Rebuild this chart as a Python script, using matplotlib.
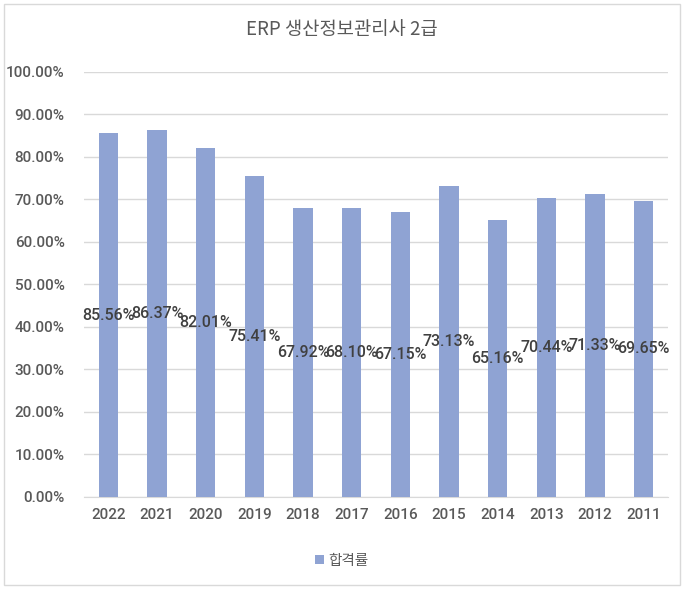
import numpy as np
import matplotlib.pyplot as plt
from matplotlib.patches import Rectangle

plt.rcParams['font.family'] = ['Roboto', 'Noto Sans CJK KR', 'DejaVu Sans']

# Data
years = ['2022', '2021', '2020', '2019', '2018', '2017', '2016', '2015', '2014', '2013', '2012', '2011']
pass_rate = [85.56, 86.37, 82.01, 75.41, 67.92, 68.10, 67.15, 73.13, 65.16, 70.44, 71.33, 69.65]
title = 'ERP 생산정보관리사 2급'
series_name = '합격률'

bar_color = '#8FA3D3'
text_color = '#595959'

fig = plt.figure(figsize=(6.84, 5.89), dpi=100)
ax = fig.add_axes([0.1228, 0.1562, 0.8538, 0.7216])

x = np.arange(len(years))
bars = ax.bar(x, pass_rate, width=0.4, color=bar_color, zorder=3, label=series_name)

# labels at bar center
for xi, v in zip(x, pass_rate):
    ax.text(xi, v / 2, f'{v:.2f}%', ha='center', va='center', fontsize=11.5,
            color='#404040', fontweight='medium', zorder=4)

ax.set_xlim(-0.5, len(years) - 0.5)
ax.set_ylim(0, 100)
ax.set_yticks(np.arange(0, 101, 10))
ax.set_yticklabels([f'{t:.2f}%' for t in np.arange(0, 101, 10)])
ax.set_xticks(x)
ax.set_xticklabels(years)
ax.tick_params(axis='both', length=0, labelsize=11, colors=text_color)
ax.tick_params(axis='y', pad=14)
ax.tick_params(axis='x', pad=8)
for lbl in ax.get_xticklabels() + ax.get_yticklabels():
    lbl.set_fontweight('medium')
ax.yaxis.grid(True, color='#D9D9D9', linewidth=1, zorder=0)
for s in ['top', 'right', 'left']:
    ax.spines[s].set_visible(False)
ax.spines['bottom'].set_color('#D9D9D9')

fig.text(0.5, 1 - 30 / 589, title, ha='center', va='center', fontsize=13.5,
         color=text_color, fontweight='medium',
         family=['Noto Sans CJK KR', 'DejaVu Sans'])

leg = fig.legend(handles=[bars], labels=[series_name], loc='center',
                 bbox_to_anchor=(0.5, 1 - 561 / 589), frameon=False,
                 handlelength=0.6, handleheight=0.6, handletextpad=0.3,
                 prop={'family': ['Noto Sans CJK KR'], 'size': 10.5, 'weight': 'medium'})
for t in leg.get_texts():
    t.set_color(text_color)

# outer chart border
fig.patches.append(Rectangle((4 / 684, 4 / 589), 676 / 684, 581 / 589,
                             transform=fig.transFigure, fill=False,
                             edgecolor='#D9D9D9', linewidth=1))

fig.savefig('out.png', dpi=100)
